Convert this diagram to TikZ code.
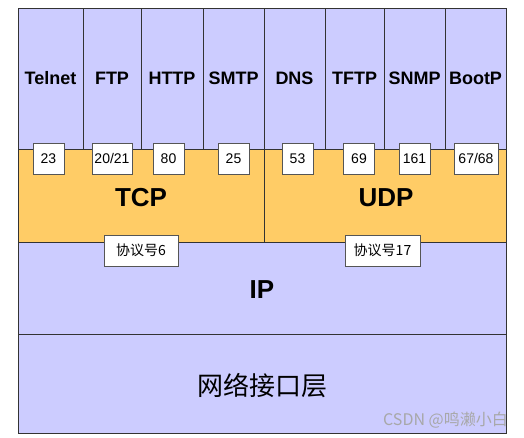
\documentclass[tikz,border=0pt]{standalone}
\usepackage{fontspec}
\setmainfont{Liberation Sans}
\newfontfamily\cjk{Noto Sans CJK SC}
\definecolor{lav}{HTML}{CCCCFF}
\definecolor{orng}{HTML}{FFCC66}
\definecolor{edge}{HTML}{333333}
\definecolor{pbord}{HTML}{555555}
\definecolor{wm}{HTML}{A8A8A8}
\begin{document}
\begin{tikzpicture}[x=1pt,y=-1pt,
  layer/.style={draw=edge, line width=0.8pt, inner sep=0pt, outer sep=0pt, anchor=north west},
  appbox/.style={layer, fill=lav, font=\fontsize{18}{20}\selectfont\bfseries},
  tbox/.style={layer, fill=orng, font=\fontsize{26}{28}\selectfont\bfseries},
  portbox/.style={draw=pbord, line width=0.8pt, fill=white, inner sep=0pt, minimum height=31pt, font=\fontsize{14}{16}\selectfont},
  protobox/.style={portbox, font=\cjk\fontsize{14}{16}\selectfont},
]
\useasboundingbox (0,0) rectangle (524,438);
% application layer
\node[appbox, minimum width=65pt, minimum height=141pt] (telnet) at (18,8) {};
\node[appbox, minimum width=58pt, minimum height=141pt] (ftp) at (83,8) {};
\node[appbox, minimum width=62pt, minimum height=141pt] (http) at (141,8) {};
\node[appbox, minimum width=61pt, minimum height=141pt] (smtp) at (203,8) {};
\node[appbox, minimum width=61pt, minimum height=141pt] (dns) at (264,8) {};
\node[appbox, minimum width=59pt, minimum height=141pt] (tftp) at (325,8) {};
\node[appbox, minimum width=61pt, minimum height=141pt] (snmp) at (384,8) {};
\node[appbox, minimum width=61pt, minimum height=141pt] (bootp) at (445,8) {};
\node[font=\fontsize{18}{20}\selectfont\bfseries] (ltelnet) at (50.5,78) {Telnet};
\node[font=\fontsize{18}{20}\selectfont\bfseries] (lftp) at (112,78) {FTP};
\node[font=\fontsize{18}{20}\selectfont\bfseries] (lhttp) at (172,78) {HTTP};
\node[font=\fontsize{18}{20}\selectfont\bfseries] (lsmtp) at (233.5,78) {SMTP};
\node[font=\fontsize{18}{20}\selectfont\bfseries] (ldns) at (294.5,78) {DNS};
\node[font=\fontsize{18}{20}\selectfont\bfseries] (ltftp) at (354.5,78) {TFTP};
\node[font=\fontsize{18}{20}\selectfont\bfseries] (lsnmp) at (414.5,78) {SNMP};
\node[font=\fontsize{18}{20}\selectfont\bfseries] (lbootp) at (475.5,78) {BootP};
% transport layer
\node[tbox, minimum width=246pt, minimum height=93pt] (tcp) at (18,149) {};
\node[tbox, minimum width=242pt, minimum height=93pt] (udp) at (264,149) {};
\node[font=\fontsize{26}{28}\selectfont\bfseries] (ltcp) at (141,198) {TCP};
\node[font=\fontsize{26}{28}\selectfont\bfseries] (ludp) at (386,198) {UDP};
% IP layer
\node[layer, fill=lav, minimum width=488pt, minimum height=92pt] (ip) at (18,242) {};
\node[font=\fontsize{26}{28}\selectfont\bfseries] (lip) at (262,290) {IP};
% network interface layer
\node[layer, fill=lav, minimum width=488pt, minimum height=99pt] (net) at (18,334) {};
\node[font=\cjk\fontsize{26}{28}\selectfont] (lnet) at (262,386) {网络接口层};
% port numbers
\node[portbox, minimum width=31pt] (p23) at (48.5,158.5) {23};
\node[portbox, minimum width=40pt] (p2021) at (112,158.5) {20/21};
\node[portbox, minimum width=31pt] (p80) at (168.5,158.5) {80};
\node[portbox, minimum width=31pt] (p25) at (233.5,158.5) {25};
\node[portbox, minimum width=31pt] (p53) at (297.5,158.5) {53};
\node[portbox, minimum width=31pt] (p69) at (359,158.5) {69};
\node[portbox, minimum width=31pt] (p161) at (414.5,158.5) {161};
\node[portbox, minimum width=44pt] (p6768) at (476,158.5) {67/68};
% protocol numbers
\node[protobox, minimum width=74pt] (pr6) at (141,250.5) {协议号6};
\node[protobox, minimum width=75pt] (pr17) at (382.5,250.5) {协议号17};
% watermark
\node[font=\cjk\fontsize{16}{18}\selectfont, text=wm, anchor=east, inner sep=0pt] (wmk) at (508,420) {CSDN @鸣濑小白};
\end{tikzpicture}
\end{document}
